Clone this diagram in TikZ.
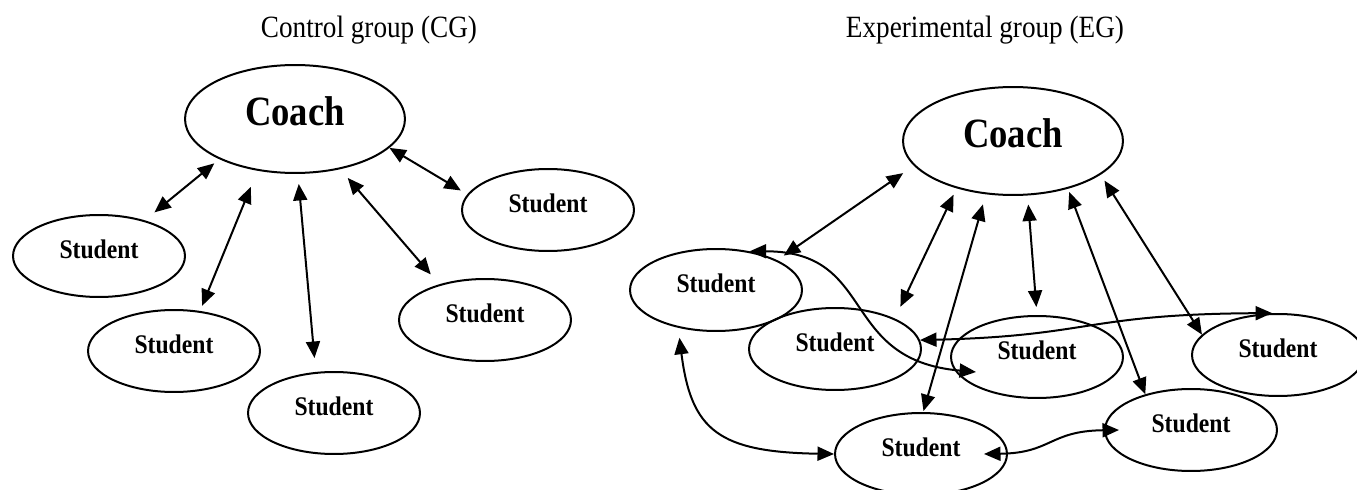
\documentclass[tikz,border=0pt]{standalone}
\usepackage{fontspec}
\setmainfont{Liberation Serif}[FakeStretch=0.88]
\usetikzlibrary{arrows.meta,shapes.geometric}

\tikzset{
  >={Triangle[length=3.3mm,width=2.8mm]},
  link/.style={<->, line width=0.4mm},
  student/.style={ellipse, draw, line width=0.4mm, inner sep=0pt,
    minimum width=34.4mm, minimum height=16.4mm,
    text height=3.1pt, text depth=0pt,
    font=\fontsize{15.3}{17}\selectfont\bfseries},
  coach/.style={ellipse, draw, line width=0.4mm, inner sep=0pt,
    minimum width=44mm, minimum height=21.6mm,
    text height=7.2pt, text depth=0pt,
    font=\fontsize{23.7}{26}\selectfont\bfseries},
  grouptitle/.style={anchor=base, font=\fontsize{17.6}{20}\selectfont}
}

\begin{document}
\begin{tikzpicture}[x=0.02cm, y=-0.02cm]
\useasboundingbox (0,0) rectangle (1357,490);

% control group
\node[grouptitle] (cgtitle) at (369,37) {Control group (CG)};
\node[coach] (cgcoach) at (295,119) {Coach};
\node[student] (cga) at (99,256) {Student};
\node[student] (cgb) at (174,351) {Student};
\node[student] (cgc) at (334,413) {Student};
\node[student] (cgd) at (485,320) {Student};
\node[student] (cge) at (548,210) {Student};

\draw[link, shorten <=2.5mm, shorten >=1.3mm] (cga.38) -- (cgcoach.208);
\draw[link, shorten <=1.1mm, shorten >=3.5mm] (cgb.57) -- (cgcoach.234);
\draw[link, shorten <=2.8mm, shorten >=2mm] (cgc.114) -- (cgcoach.273);
\draw[link, shorten <=2.6mm, shorten >=2.3mm] (cgd.142) -- (cgcoach.312);
\draw[link, shorten <=1.5mm] (cge.169) -- (cgcoach.343);

% experimental group
\node[grouptitle] (egtitle) at (985,37) {Experimental group (EG)};
\node[coach] (egcoach) at (1013,141) {Coach};
\node[student] (ega) at (716,290) {Student};
\node[student] (egb) at (835,349) {Student};
\node[student] (egc) at (1037,357) {Student};
\node[student] (egd) at (1278,355) {Student};
\node[student] (ege) at (1191,430) {Student};
\node[student] (egf) at (921,454) {Student};

\draw[link, shorten <=1.6mm, shorten >=2.6mm] (ega.26) -- (egcoach.194);
\draw[link, shorten <=2.6mm, shorten >=1.4mm] (egb.27) -- (egcoach.220);
\draw[link, shorten <=0.2mm, shorten >=2.1mm] (egf.87) -- (egcoach.243);
\draw[link, shorten <=1.6mm, shorten >=1.8mm] (egc.90) -- (egcoach.285);
\draw[link, shorten >=0.7mm] (ege.142) -- (egcoach.319);
\draw[link, shorten >=1.4mm] (egd.165) -- (egcoach.339);

% students among themselves
\draw[link] (ega.49) .. controls +(128,0) and +(-138,-12) .. ([shift={(26,15)}]egc.west);
\draw[link] (egb.6) .. controls +(171,-4) and +(-187,1) .. (egd.98);
\draw[link, shorten <=2mm] (ega.225) .. controls +(13,103) and +(-115,-2) .. (egf.west);
\draw[link] ([shift={(-24,0)}]egf.east) .. controls +(68,-1) and +(-70,1) .. ([shift={(15,0)}]ege.west);
\end{tikzpicture}
\end{document}
